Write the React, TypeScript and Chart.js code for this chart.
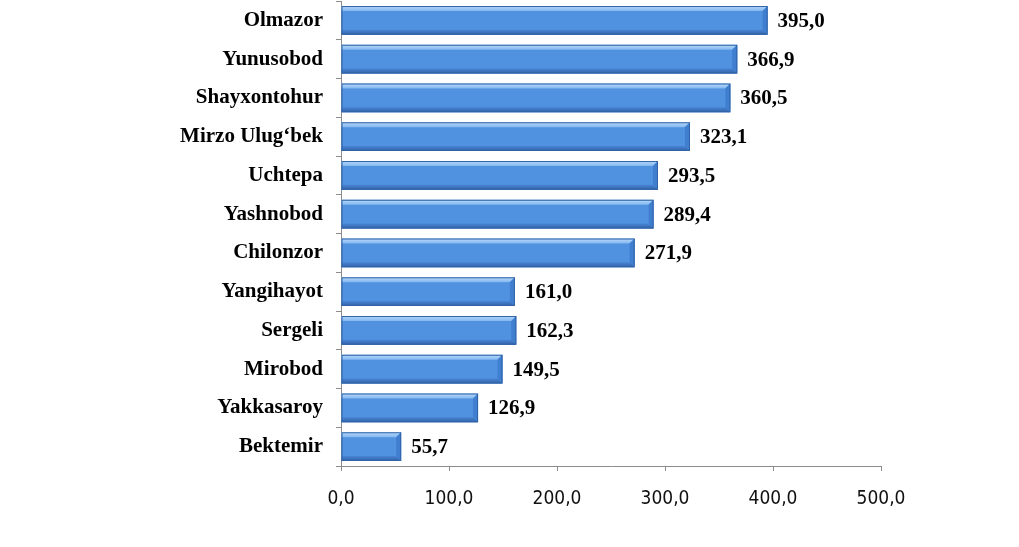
import React, { useEffect, useRef } from "react";
import { Chart, registerables } from "chart.js";

Chart.register(...registerables);

const categories = [
  "Olmazor",
  "Yunusobod",
  "Shayxontohur",
  "Mirzo Ulug‘bek",
  "Uchtepa",
  "Yashnobod",
  "Chilonzor",
  "Yangihayot",
  "Sergeli",
  "Mirobod",
  "Yakkasaroy",
  "Bektemir",
];
const values = [395.0, 366.9, 360.5, 323.1, 293.5, 289.4, 271.9, 161.0, 162.3, 149.5, 126.9, 55.7];
const xTickValues = [0, 100, 200, 300, 400, 500];

const fmt = (v: number) => v.toFixed(1).replace(".", ",");

const bevelPlugin = {
  id: "bevel",
  afterDatasetsDraw(chart: any) {
    const ctx = chart.ctx;
    const meta = chart.getDatasetMeta(0);
    meta.data.forEach((el: any) => {
      const { x, y, base, height } = el.getProps(["x", "y", "base", "height"], true);
      const left = Math.min(base, x);
      const right = Math.max(base, x);
      const top = y - height / 2;
      const bottom = y + height / 2;
      const b = 5;
      ctx.save();
      let g = ctx.createLinearGradient(0, top, 0, top + b);
      g.addColorStop(0, "#b8dbfc");
      g.addColorStop(1, "#82b6ef");
      ctx.fillStyle = g;
      ctx.beginPath();
      ctx.moveTo(left, top);
      ctx.lineTo(right, top);
      ctx.lineTo(right - b, top + b);
      ctx.lineTo(left, top + b);
      ctx.closePath();
      ctx.fill();
      ctx.fillStyle = "#407ecf";
      ctx.beginPath();
      ctx.moveTo(right, top);
      ctx.lineTo(right, bottom);
      ctx.lineTo(right - b, bottom - b);
      ctx.lineTo(right - b, top + b);
      ctx.closePath();
      ctx.fill();
      g = ctx.createLinearGradient(0, bottom - b, 0, bottom);
      g.addColorStop(0, "#4885d4");
      g.addColorStop(1, "#3262a9");
      ctx.fillStyle = g;
      ctx.beginPath();
      ctx.moveTo(left, bottom);
      ctx.lineTo(right, bottom);
      ctx.lineTo(right - b, bottom - b);
      ctx.lineTo(left, bottom - b);
      ctx.closePath();
      ctx.fill();
      ctx.strokeStyle = "#3163a6";
      ctx.lineWidth = 1;
      ctx.strokeRect(left + 0.5, top + 0.5, right - left - 1, bottom - top - 1);
      ctx.restore();
    });
  },
};

const valueLabelPlugin = {
  id: "valueLabels",
  afterDatasetsDraw(chart: any) {
    const ctx = chart.ctx;
    const meta = chart.getDatasetMeta(0);
    const data = chart.data.datasets[0].data as number[];
    ctx.save();
    ctx.font = "bold 21px 'Liberation Serif', 'Times New Roman', serif";
    ctx.fillStyle = "#000";
    ctx.textAlign = "left";
    ctx.textBaseline = "middle";
    meta.data.forEach((el: any, i: number) => {
      ctx.fillText(fmt(data[i]), el.x + 10, el.y + 1);
    });
    ctx.restore();
  },
};

export default function App() {
  const ref = useRef<HTMLCanvasElement | null>(null);

  useEffect(() => {
    document.body.style.margin = "0";
    if (!ref.current) return;
    const chart = new Chart(ref.current, {
      type: "bar",
      data: {
        labels: categories,
        datasets: [
          {
            data: values,
            backgroundColor: "#5192e0",
            borderWidth: 0,
            categoryPercentage: 1,
            barPercentage: 0.74,
          },
        ],
      },
      options: {
        indexAxis: "y",
        animation: false,
        responsive: false,
        devicePixelRatio: 1,
        layout: { padding: { top: 1, right: 138, bottom: 0, left: 0 } },
        plugins: { legend: { display: false }, tooltip: { enabled: false } },
        scales: {
          x: {
            min: 0,
            max: 500,
            afterBuildTicks: (scale: any) => {
              scale.ticks = xTickValues.map((v) => ({ value: v }));
            },
            afterFit: (scale: any) => {
              scale.height = 81;
            },
            border: { display: true, color: "#8c8c8c", width: 1 },
            grid: {
              drawOnChartArea: false,
              drawTicks: true,
              tickLength: 5,
              color: "#8c8c8c",
            },
            ticks: {
              padding: 17,
              color: "#111",
              font: { family: "'DejaVu Sans Condensed', 'DejaVu Sans', sans-serif", size: 19 },
              callback: (v: any) => fmt(Number(v)),
            },
          },
          y: {
            afterFit: (scale: any) => {
              scale.width = 341;
              scale.paddingTop = 0;
              scale.paddingBottom = 0;
            },
            border: { display: true, color: "#8c8c8c", width: 1 },
            grid: {
              drawOnChartArea: false,
              drawTicks: true,
              tickLength: 5,
              color: "#8c8c8c",
            },
            ticks: {
              padding: 13,
              color: "#000",
              font: { family: "'Liberation Serif', 'Times New Roman', serif", size: 21, weight: "bold" },
            },
          },
        },
      },
      plugins: [bevelPlugin, valueLabelPlugin],
    });
    return () => chart.destroy();
  }, []);

  return (
    <div style={{ width: 1019, height: 547, background: "#fff" }}>
      <canvas ref={ref} width={1019} height={547} />
    </div>
  );
}
